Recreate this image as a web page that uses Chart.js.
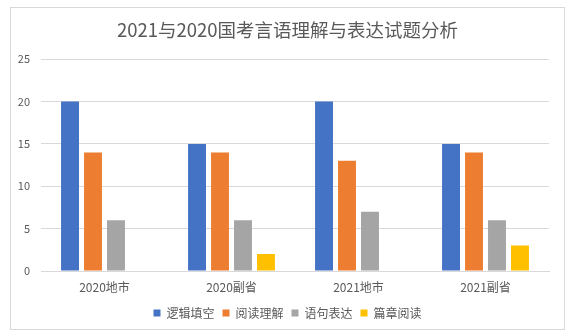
<!DOCTYPE html>
<html>
<head>
<meta charset="utf-8">
<script src="https://cdn.jsdelivr.net/npm/chart.js@4"></script>
<style>
    body { margin: 0; background: #fff; }
    #box {
        position: absolute; left: 10px; top: 7px;
        width: 553px; height: 321px;
        border: 1px solid #d9d9d9;
    }
</style>
</head>
<body>
<div id="box"><canvas id="c" width="553" height="321"></canvas></div>
<script>
// === 数据 ===
const categories = ['2020地市', '2020副省', '2021地市', '2021副省'];
const seriesNames = ['逻辑填空', '阅读理解', '语句表达', '篇章阅读'];
const luoji   = [20, 15, 20, 15];
const yuedu   = [14, 14, 13, 14];
const yuju    = [6, 6, 7, 6];
const pianzhang = [0, 2, 0, 3];
const colors = ['#4472C4', '#ED7D31', '#A5A5A5', '#FFC000'];

const textColor = '#595959';
const font = '"Noto Sans CJK SC", "Noto Sans", sans-serif';

const ctx = document.getElementById('c').getContext('2d');
new Chart(ctx, {
    type: 'bar',
    data: {
        labels: categories,
        datasets: [luoji, yuedu, yuju, pianzhang].map((d, i) => ({
            label: seriesNames[i],
            data: d,
            backgroundColor: colors[i],
            categoryPercentage: 0.724,
            barPercentage: 0.78
        }))
    },
    options: {
        responsive: false,
        animation: false,
        devicePixelRatio: 1,
        layout: { padding: 0 },
        plugins: {
            title: {
                display: true,
                text: '2021与2020国考言语理解与表达试题分析',
                color: textColor,
                font: { family: font, size: 18.5, weight: 'normal' },
                padding: { top: 11, bottom: 18 }
            },
            legend: {
                position: 'bottom',
                labels: {
                    color: textColor,
                    font: { family: font, size: 12 },
                    boxWidth: 7,
                    boxHeight: 7,
                    padding: 8
                }
            },
            tooltip: { enabled: false }
        },
        scales: {
            x: {
                grid: { display: false, drawTicks: false },
                border: { display: true, color: '#d9d9d9' },
                ticks: { color: textColor, font: { family: font, size: 12 }, padding: 9 },
                afterFit: s => { s.height = 28; }
            },
            y: {
                min: 0, max: 25,
                ticks: { stepSize: 5, color: textColor, font: { family: font, size: 11 }, padding: 11 },
                grid: { color: '#d9d9d9', drawTicks: false },
                border: { display: false },
                afterFit: s => { s.width = 30; }
            },
            // 右侧留白，用一个空轴占位
            y2: {
                position: 'right',
                display: true,
                min: 0, max: 25,
                ticks: { display: false },
                grid: { display: false, drawTicks: false },
                border: { display: false },
                afterFit: s => { s.width = 15; }
            }
        }
    }
});
</script>
</body>
</html>
